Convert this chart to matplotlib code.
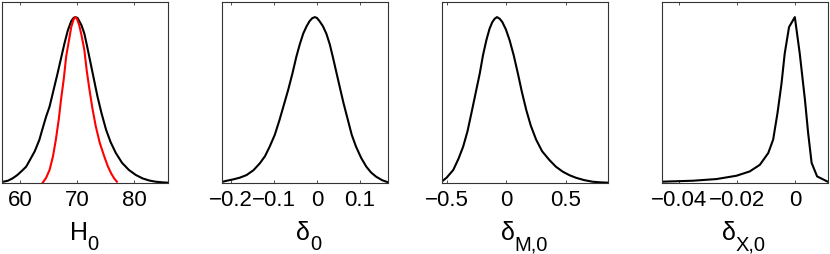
import numpy as np
import matplotlib
matplotlib.use('Agg')
import matplotlib.pyplot as plt

plt.rcParams['font.family'] = ['Liberation Sans', 'DejaVu Sans']
plt.rcParams['axes.unicode_minus'] = True

# marginal posteriors (normalised to peak = 1)
h0_x = [56.8, 57.9, 58.7, 59.5, 60.3, 61.1, 61.8, 62.6, 63.4, 64.0, 64.6, 65.2,
        65.9, 66.6, 67.2, 67.8, 68.4, 69.0, 69.4, 69.7, 70.1, 70.4, 70.8, 71.3,
        71.8, 72.4, 73.0, 73.6, 74.3, 75.1, 75.9, 76.8, 77.9, 79.1, 80.3, 81.5,
        82.7, 83.8, 85.0, 86.0]
h0_y = [0.004, 0.012, 0.026, 0.045, 0.070, 0.097, 0.14, 0.19, 0.258, 0.33, 0.40,
        0.46, 0.56, 0.66, 0.75, 0.84, 0.92, 0.976, 0.995, 1.0, 0.995, 0.976, 0.95,
        0.90, 0.82, 0.72, 0.62, 0.52, 0.42, 0.32, 0.245, 0.18, 0.12, 0.077, 0.047,
        0.026, 0.013, 0.006, 0.002, 0.0]

h0_prior_x = [64.0, 64.6, 65.2, 65.8, 66.3, 66.8, 67.2, 67.7, 68.1, 68.6, 69.0,
              69.4, 69.7, 70.0, 70.4, 70.8, 71.3, 71.7, 72.2, 72.7, 73.3, 74.0,
              74.8, 75.4, 76.0, 76.5, 77.0]
h0_prior_y = [0.0, 0.03, 0.077, 0.16, 0.26, 0.38, 0.5, 0.63, 0.76, 0.86, 0.94,
              0.985, 1.0, 0.99, 0.95, 0.89, 0.80, 0.68, 0.56, 0.45, 0.34, 0.24,
              0.157, 0.10, 0.056, 0.027, 0.006]

d0_x = [-0.222, -0.21, -0.195, -0.18, -0.164, -0.148, -0.133, -0.121, -0.110,
        -0.098, -0.087, -0.077, -0.067, -0.057, -0.048, -0.040, -0.032, -0.024,
        -0.017, -0.011, -0.005, 0.0, 0.006, 0.014, 0.022, 0.030, 0.037, 0.045,
        0.053, 0.062, 0.072, 0.081, 0.091, 0.103, 0.115, 0.126, 0.138, 0.152, 0.166]
d0_y = [0.004, 0.012, 0.02, 0.03, 0.046, 0.075, 0.117, 0.16, 0.218, 0.29, 0.38,
        0.47, 0.56, 0.66, 0.76, 0.835, 0.90, 0.945, 0.976, 0.993, 1.0, 0.995,
        0.976, 0.945, 0.90, 0.835, 0.76, 0.67, 0.58, 0.48, 0.38, 0.29, 0.218,
        0.15, 0.097, 0.062, 0.036, 0.015, 0.002]

dm_x = [-0.542, -0.5, -0.444, -0.40, -0.361, -0.325, -0.292, -0.257, -0.222,
        -0.195, -0.167, -0.14, -0.117, -0.097, -0.078, -0.055, -0.033, -0.003,
        0.028, 0.062, 0.097, 0.13, 0.167, 0.205, 0.25, 0.30, 0.361, 0.415, 0.472,
        0.53, 0.583, 0.65, 0.722, 0.79, 0.856]
dm_y = [0.006, 0.03, 0.077, 0.145, 0.218, 0.31, 0.42, 0.54, 0.66, 0.77, 0.86,
        0.93, 0.97, 0.99, 1.0, 0.99, 0.97, 0.925, 0.86, 0.77, 0.66, 0.55, 0.44,
        0.345, 0.26, 0.19, 0.137, 0.097, 0.067, 0.045, 0.03, 0.016, 0.006, 0.002,
        0.0]

dx_x = [-0.0461, -0.0352, -0.0271, -0.0202, -0.0156, -0.0121, -0.0092, -0.0075,
        -0.0060, -0.0046, -0.0035, -0.0020, 0.0, 0.0017, 0.0035, 0.0046, 0.0058,
        0.0077, 0.0115]
dx_y = [0.006, 0.012, 0.022, 0.042, 0.068, 0.108, 0.179, 0.26, 0.42, 0.60, 0.78,
        0.94, 1.0, 0.78, 0.50, 0.30, 0.12, 0.038, 0.005]

xlims = [(56.8, 86.0), (-0.222, 0.166), (-0.542, 0.853), (-0.0461, 0.0115)]
ticks = [[60, 70, 80], [-0.2, -0.1, 0, 0.1], [-0.5, 0, 0.5], [-0.04, -0.02, 0]]
tick_labels = [['60', '70', '80'],
               ['\u22120.2', '\u22120.1', '0', '0.1'],
               ['\u22120.5', '0', '0.5'],
               ['\u22120.04', '\u22120.02', '0']]
symbols = ['H', '\u03b4', '\u03b4', '\u03b4']
subscripts = ['0', '0', 'M,0', 'X,0']

curves = [[(h0_x, h0_y, 'k'), (h0_prior_x, h0_prior_y, 'r')],
          [(d0_x, d0_y, 'k')],
          [(dm_x, dm_y, 'k')],
          [(dx_x, dx_y, 'k')]]

# where the symbol/subscript meet, in axes fraction
junction = [0.516, 0.53, 0.44, 0.446]

fig = plt.figure(figsize=(8.3, 2.54), dpi=100)
lefts = [0.002, 0.267, 0.532, 0.797]

for i in range(4):
    ax = fig.add_axes([lefts[i], 0.2807, 0.2007, 0.7126])
    for x, y, c in curves[i]:
        ax.plot(x, y, color=c, lw=1.5)
    ax.set_xlim(xlims[i])
    ax.set_ylim(0, 1.093)
    ax.set_xticks(ticks[i])
    ax.set_xticklabels(tick_labels[i])
    ax.set_yticks([])
    ax.tick_params(axis='x', direction='in', top=True, length=2.5, width=0.6,
                   labelsize=16, pad=5.5, color='0.2')
    for s in ax.spines.values():
        s.set_linewidth(0.8)
        s.set_color('0.2')
    ax.text(junction[i], -0.315, symbols[i], transform=ax.transAxes,
            ha='right', va='baseline', fontsize=18)
    ax.text(junction[i], -0.372, subscripts[i], transform=ax.transAxes,
            ha='left', va='baseline', fontsize=14.5)

fig.savefig('out.png', dpi=100)
